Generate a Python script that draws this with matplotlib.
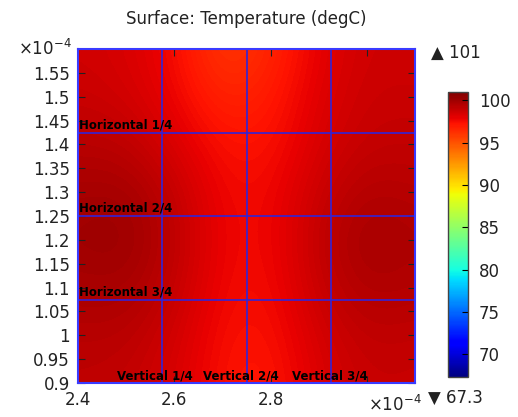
import numpy as np
import matplotlib
matplotlib.use("Agg")
import matplotlib.pyplot as plt
from matplotlib.colors import Normalize

# Sample points of the surface (x, y in units of 1e-4 m)
x_e4 = [2.4, 2.5, 2.6, 2.7, 2.8, 2.9, 3.0, 3.1]
y_e4 = [0.9, 1.0, 1.1, 1.2, 1.3, 1.4, 1.5, 1.6]

# Temperature (degC), one row per y value, bottom row first
temp = [
    [99.1, 99.0, 98.4, 97.3, 97.1, 98.3, 98.9, 98.8],
    [99.3, 99.3, 98.6, 97.4, 97.3, 98.5, 99.1, 99.0],
    [99.7, 99.8, 99.0, 97.6, 97.5, 98.9, 99.6, 99.4],
    [100.0, 100.2, 99.2, 97.7, 97.6, 99.1, 99.9, 99.6],
    [99.8, 99.9, 99.0, 97.6, 97.6, 98.8, 99.5, 99.3],
    [99.3, 99.2, 98.3, 97.3, 97.3, 98.4, 99.0, 99.0],
    [98.8, 98.6, 97.8, 96.6, 97.0, 98.2, 98.8, 98.8],
    [98.6, 98.4, 97.6, 95.8, 96.6, 98.0, 98.7, 98.6],
]

t_min, t_max = 67.3, 101.0
cbar_ticks = [70, 75, 80, 85, 90, 95, 100]

x_ticks = [2.4, 2.6, 2.8, 3.0]
x_ticklabels = ["2.4", "2.6", "2.8", ""]
y_ticks = [0.9, 0.95, 1.0, 1.05, 1.1, 1.15, 1.2, 1.25, 1.3, 1.35, 1.4, 1.45, 1.5, 1.55]
y_ticklabels = ["0.9", "0.95", "1", "1.05", "1.1", "1.15", "1.2", "1.25",
                "1.3", "1.35", "1.4", "1.45", "1.5", "1.55"]

# Cut lines and their labels
h_lines = [1.425, 1.25, 1.075]
h_names = ["Horizontal 1/4", "Horizontal 2/4", "Horizontal 3/4"]
v_lines = [2.575, 2.75, 2.925]
v_names = ["Vertical 1/4", "Vertical 2/4", "Vertical 3/4"]
v_label_x = [2.559, 2.739, 2.924]

line_col = "#3224d8"

fig = plt.figure(figsize=(5.18, 4.17), dpi=100)
ax = fig.add_axes([0.1506, 0.0815, 0.6506, 0.801])
cax = fig.add_axes([0.8649, 0.0959, 0.0386, 0.6835])

xs = np.array(x_e4)
ys = np.array(y_e4)
dx = (xs[1] - xs[0]) / 2
dy = (ys[1] - ys[0]) / 2
norm = Normalize(vmin=t_min, vmax=t_max)
im = ax.imshow(np.array(temp), origin="lower", cmap="jet", norm=norm,
               extent=(xs[0] - dx, xs[-1] + dx, ys[0] - dy, ys[-1] + dy),
               interpolation="bicubic", aspect="auto")
ax.set_xlim(xs[0], xs[-1])
ax.set_ylim(ys[0], ys[-1])

for yv, name in zip(h_lines, h_names):
    ax.axhline(yv, color=line_col, lw=1.2)
    ax.text(2.403, yv + 0.003, name, fontsize=8.5, fontweight="bold",
            ha="left", va="bottom", color="black")
for xv, lx, name in zip(v_lines, v_label_x, v_names):
    ax.axvline(xv, color=line_col, lw=1.2)
    ax.text(lx, 0.902, name, fontsize=8.5, fontweight="bold",
            ha="center", va="bottom", color="black")

for sp in ax.spines.values():
    sp.set_color("#3a3aff")
    sp.set_linewidth(1.5)

ax.set_xticks(x_ticks)
ax.set_xticklabels(x_ticklabels)
ax.set_yticks(y_ticks)
ax.set_yticklabels(y_ticklabels)
ax.tick_params(direction="in", length=5, width=0.8, color="#222222",
               labelsize=12, labelcolor="#222222", top=True, right=True, pad=6)

ax.text(-0.02, 1.0, r"$\times$10$^{-4}$", transform=ax.transAxes, fontsize=12,
        ha="right", va="center", color="#222222")
ax.text(1.02, -0.035, r"$\times$10$^{-4}$", transform=ax.transAxes, fontsize=12,
        ha="right", va="top", color="#222222")

ax.set_title("Surface: Temperature (degC)", fontsize=12, color="#222222", pad=18)

cb = fig.colorbar(im, cax=cax, ticks=cbar_ticks)
cb.outline.set_edgecolor("#444444")
cb.outline.set_linewidth(1.0)
cax.tick_params(direction="in", length=4, labelsize=12, labelcolor="#222222", pad=8)

fig.text(0.832, 0.873, "\u25b2 %g" % t_max, fontsize=12, color="#222222",
         ha="left", va="center")
fig.text(0.826, 0.045, "\u25bc %g" % t_min, fontsize=12, color="#222222",
         ha="left", va="center")

fig.savefig("out.png", dpi=100)
